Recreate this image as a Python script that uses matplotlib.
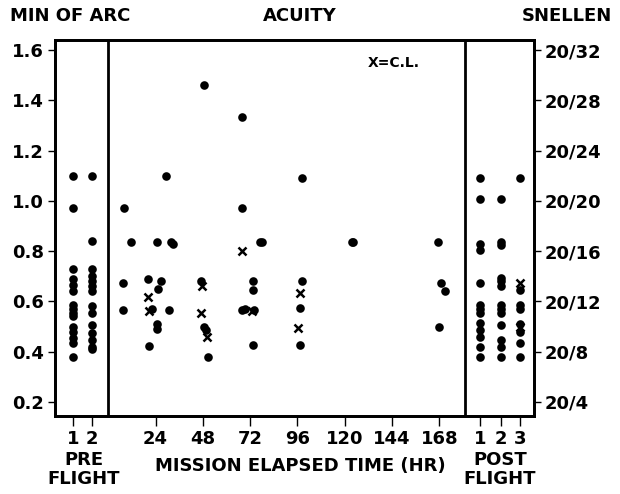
import numpy as np
import matplotlib.pyplot as plt

plt.rcParams['font.family'] = ['DejaVu Sans']
plt.rcParams['font.weight'] = 'bold'

# acuity in min of arc
pre_day1 = [1.10, 0.97, 0.73, 0.69, 0.665, 0.64, 0.585, 0.57, 0.555, 0.54,
            0.50, 0.48, 0.455, 0.435, 0.38]
pre_day2 = [1.10, 0.84, 0.73, 0.70, 0.68, 0.66, 0.64, 0.58, 0.555, 0.505,
            0.475, 0.445, 0.42, 0.41]

flight_hr = [7.9, 11.6, 24.6, 32.0, 32.8, 29.3, 7.4, 20.0, 26.8, 25.0,
             7.4, 22.0, 30.7, 24.8, 24.8, 20.9, 47.0, 48.6, 49.5, 50.7,
             48.6, 68.1, 98.5, 68.1, 76.9, 77.9, 73.2, 73.2, 67.8, 69.5,
             74.0, 73.7, 98.5, 97.3, 97.3, 123.6, 124.4, 167.4, 168.6, 170.7,
             167.7]
flight_val = [0.97, 0.835, 0.835, 0.835, 0.83, 1.10, 0.675, 0.69, 0.68, 0.65,
              0.566, 0.57, 0.566, 0.51, 0.49, 0.424, 0.68, 0.50, 0.485, 0.38,
              1.46, 1.335, 1.09, 0.97, 0.835, 0.835, 0.68, 0.645, 0.566, 0.568,
              0.566, 0.425, 0.68, 0.575, 0.425, 0.835, 0.835, 0.835, 0.675, 0.64,
              0.50]

# X = contact lens wearers
cl_hr = [20.1, 20.9, 47.5, 47.0, 50.0, 68.1, 72.9, 97.3, 96.5]
cl_val = [0.618, 0.56, 0.66, 0.555, 0.46, 0.80, 0.56, 0.632, 0.493]

post_day1 = [1.09, 1.006, 0.83, 0.805, 0.672, 0.585, 0.57, 0.555, 0.515,
             0.485, 0.46, 0.42, 0.38]
post_day2 = [1.006, 0.835, 0.825, 0.695, 0.68, 0.66, 0.585, 0.57, 0.555,
             0.505, 0.445, 0.42, 0.38]
post_day3 = [1.09, 0.645, 0.585, 0.57, 0.51, 0.48, 0.435, 0.38]
post3_cl = [0.672, 0.50]

hr_ticks = [24, 48, 72, 96, 120, 144, 168]
acuity_ticks = [0.2, 0.4, 0.6, 0.8, 1.0, 1.2, 1.4, 1.6]

# where the pre/post columns sit on the hour axis
pre_pos = [-17.8, -8.1]
post_pos = [188.8, 199.2, 209.0]

fig = plt.figure(figsize=(6.2, 4.94), dpi=100)
ax = fig.add_axes([55 / 620, 1 - 416 / 494, 479 / 620, 376 / 494])

dot = dict(marker='o', ls='none', color='black', ms=6.2, mew=0)
ex = dict(marker='x', ls='none', color='black', ms=6, mew=1.8)

for p, vals in zip(pre_pos, [pre_day1, pre_day2]):
    ax.plot([p] * len(vals), vals, **dot)
ax.plot(flight_hr, flight_val, **dot)
ax.plot(cl_hr, cl_val, **ex)
for p, vals in zip(post_pos, [post_day1, post_day2, post_day3]):
    ax.plot([p] * len(vals), vals, **dot)
ax.plot([post_pos[2]] * len(post3_cl), post3_cl, **ex)

ax.axvline(0, color='black', lw=2)
ax.axvline(181.1, color='black', lw=2)

ax.set_xlim(-27, 216)
ax.set_ylim(0.144, 1.64)
for s in ax.spines.values():
    s.set_linewidth(2)

ax.set_xticks(pre_pos + hr_ticks + post_pos)
ax.set_xticklabels(['1', '2'] + [str(h) for h in hr_ticks] + ['1', '2', '3'])
ax.set_yticks(acuity_ticks)
ax.set_yticklabels(['%.1f' % v for v in acuity_ticks])
ax.tick_params(axis='both', direction='out', length=5, width=1,
               labelsize=13, pad=3)
ax.tick_params(axis='x', length=7, pad=3)

ax2 = ax.twinx()
ax2.set_ylim(ax.get_ylim())
ax2.set_yticks(acuity_ticks)
ax2.set_yticklabels(['20/%d' % round(v * 20) for v in acuity_ticks])
ax2.tick_params(axis='y', direction='out', length=5, width=1,
                labelsize=13, pad=3)
for s in ax2.spines.values():
    s.set_linewidth(2)

fig.text(10 / 620, 1 - 16 / 494, 'MIN OF ARC', fontsize=13, va='center', ha='left')
fig.text(300 / 620, 1 - 16 / 494, 'ACUITY', fontsize=13, va='center', ha='center')
fig.text(612 / 620, 1 - 16 / 494, 'SNELLEN', fontsize=13, va='center', ha='right')
ax.text(145, 1.55, 'X=C.L.', fontsize=10, va='center', ha='center')

fig.text(84 / 620, 1 - 460 / 494, 'PRE', fontsize=13, va='center', ha='center')
fig.text(84 / 620, 1 - 479 / 494, 'FLIGHT', fontsize=13, va='center', ha='center')
fig.text(300 / 620, 1 - 466 / 494, 'MISSION ELAPSED TIME (HR)', fontsize=13,
         va='center', ha='center')
fig.text(500 / 620, 1 - 460 / 494, 'POST', fontsize=13, va='center', ha='center')
fig.text(500 / 620, 1 - 479 / 494, 'FLIGHT', fontsize=13, va='center', ha='center')

fig.savefig('out.png', dpi=100)
